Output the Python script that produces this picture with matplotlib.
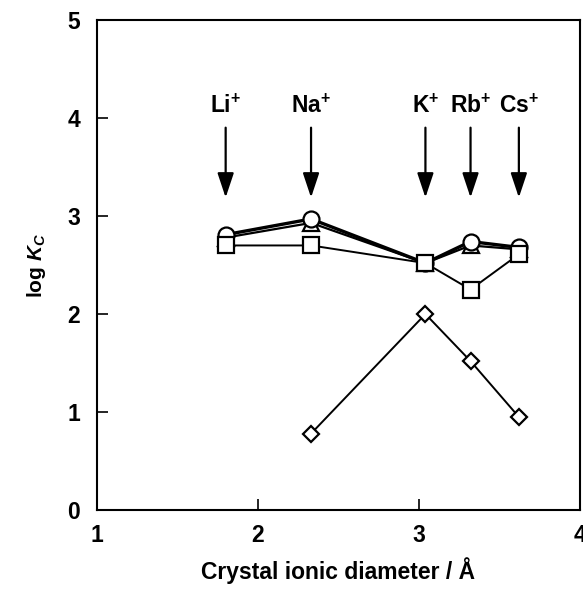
import matplotlib
matplotlib.use('Agg')
import matplotlib.pyplot as plt

plt.rcParams['font.family'] = ['Liberation Sans', 'DejaVu Sans']
plt.rcParams['font.weight'] = 'bold'
plt.rcParams['mathtext.fontset'] = 'custom'
plt.rcParams['mathtext.rm'] = 'Liberation Sans:bold'
plt.rcParams['mathtext.bf'] = 'Liberation Sans:bold'
plt.rcParams['mathtext.it'] = 'Liberation Sans:italic:bold'

# Ionic diameters (Å)
ions = ['Li', 'Na', 'K', 'Rb', 'Cs']
diam = [1.80, 2.33, 3.04, 3.32, 3.62]

# log Kc series
circle_y = [2.81, 2.97, 2.52, 2.74, 2.68]
triangle_y = [2.78, 2.93, 2.52, 2.70, 2.66]
square_y = [2.70, 2.70, 2.52, 2.25, 2.61]
diamond_x = [2.33, 3.04, 3.32, 3.62]
diamond_y = [0.78, 2.00, 1.52, 0.95]

arrow_top = 3.93
arrow_tip = 3.16
label_y = 4.12

fig = plt.figure(figsize=(5.83, 5.89), dpi=100)
ax = fig.add_axes([0.166, 0.134, 0.829, 0.832])

ax.plot(diam, triangle_y, '-^', color='black', lw=1.6, ms=11,
        mfc='white', mec='black', mew=1.6, zorder=3)
ax.plot(diam, circle_y, '-o', color='black', lw=2.4, ms=11.5,
        mfc='white', mec='black', mew=1.6, zorder=4)
ax.plot(diam, square_y, '-s', color='black', lw=1.4, ms=11.5,
        mfc='white', mec='black', mew=1.6, zorder=5)
ax.plot(diamond_x, diamond_y, '-D', color='black', lw=1.4, ms=8.5,
        mfc='white', mec='black', mew=1.6, zorder=5)

for name, x in zip(ions, diam):
    ax.annotate('', xy=(x, arrow_tip), xytext=(x, arrow_top),
                arrowprops=dict(arrowstyle='-|>,head_length=1.5,head_width=0.5',
                                color='black', lw=1.6))
    ax.text(x, label_y, name + r'$^{+}$', ha='center', va='center',
            fontsize=16.5, fontweight='bold')

ax.set_xlim(1, 4)
ax.set_ylim(0, 5)
ax.set_xticks([1, 2, 3, 4])
ax.set_yticks([0, 1, 2, 3, 4, 5])
ax.tick_params(direction='in', length=8, width=1.2, labelsize=16.5,
               top=False, right=False)
ax.tick_params(axis='x', pad=10)
ax.tick_params(axis='y', pad=12)
for lab in ax.get_xticklabels() + ax.get_yticklabels():
    lab.set_fontweight('bold')
for sp in ax.spines.values():
    sp.set_linewidth(1.5)

ax.set_xlabel('Crystal ionic diameter / Å', fontsize=16.5, fontweight='bold', labelpad=7)
ax.set_ylabel(r'log $K_{C}$', fontsize=15, fontweight='bold', labelpad=14)

fig.savefig('out.png', dpi=100)
